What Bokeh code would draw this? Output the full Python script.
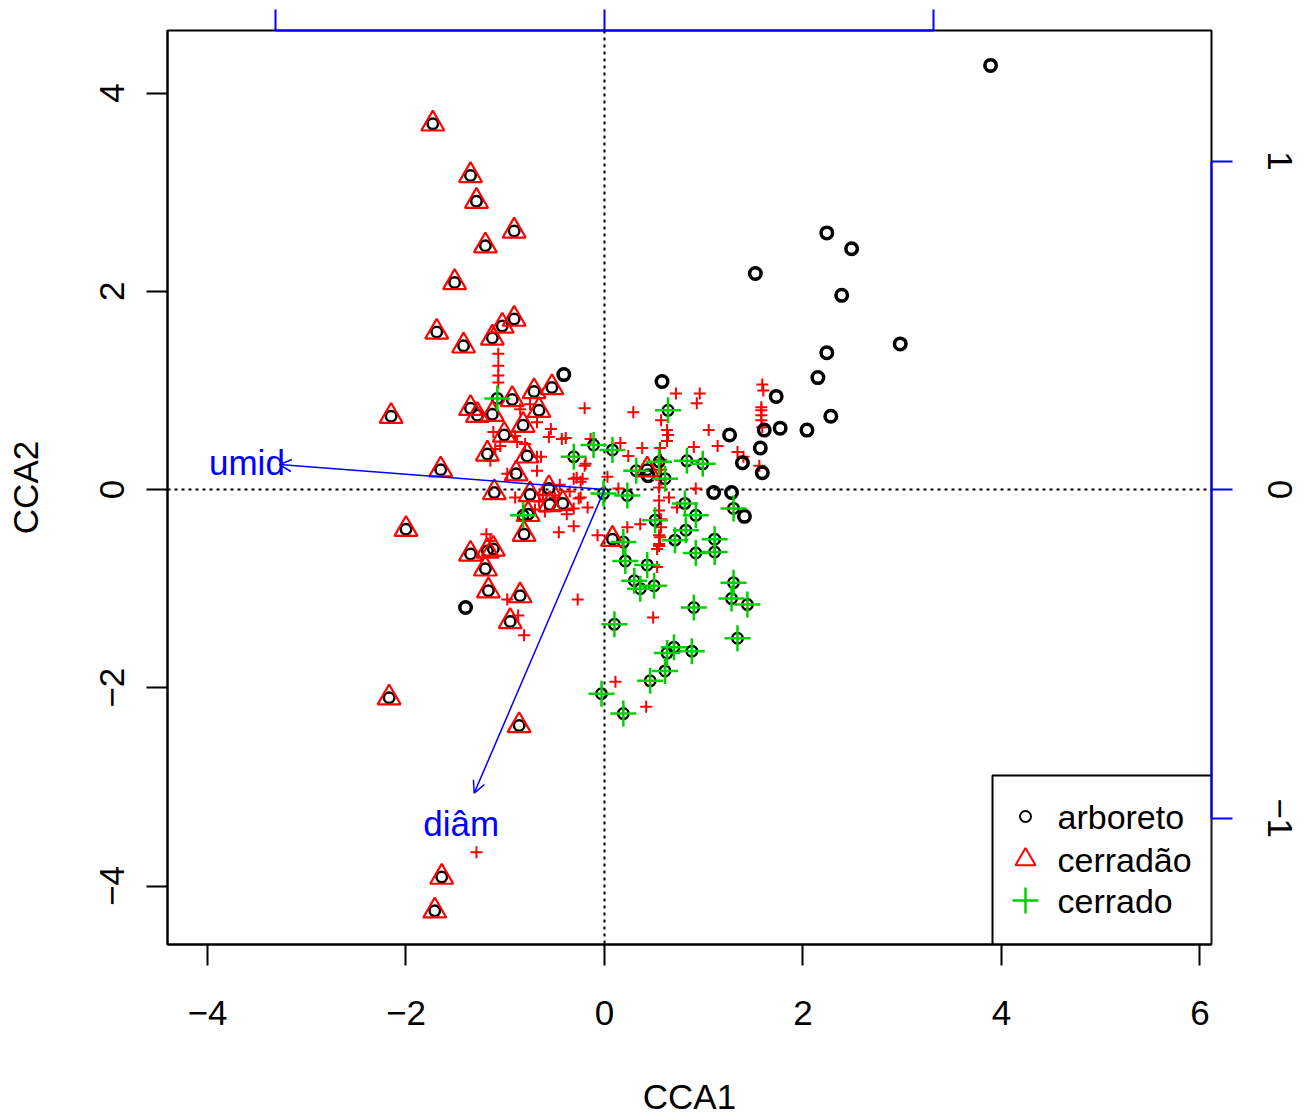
from bokeh.plotting import figure
from bokeh.models import Range1d, LinearAxis, FixedTicker, Arrow, OpenHead, Span
from bokeh.embed import file_html
from bokeh.resources import INLINE
from bokeh.core.properties import value

FONT = "Liberation Sans"

# ---- data ----
arboreto_x = [3.89, 2.24, 2.49, 1.52, 2.39, 2.98, 2.24, 2.15, 1.73, 2.28, 1.26, 1.61, 1.77, 2.04,
              1.57, 1.39, 1.59, 1.10, 1.28, 1.41, 0.58, -0.41, -1.40, 0.44]
arboreto_y = [4.28, 2.59, 2.43, 2.18, 1.96, 1.47, 1.38, 1.13, 0.94, 0.74, 0.55, 0.60, 0.62, 0.60,
              0.42, 0.27, 0.17, -0.03, -0.03, -0.27, 1.09, 1.16, -1.19, 0.14]

cerradao_x = [-1.73, -1.35, -1.29, -0.91, -1.20, -1.51, -0.91, -1.03, -1.69, -1.13, -1.42, -2.15,
              -0.53, -0.71, -0.93, -1.35, -1.28, -1.13, -0.66, -1.01, -0.82, -1.18, -0.78, -1.65,
              -0.89, -1.11, -0.75, -0.56, -0.55, -0.42, -2.00, -0.77, -0.81, -1.35, -1.12, -1.18,
              -1.20, -1.17, -0.85, -0.95, -2.17, -0.86, -1.64, -1.71, 0.43, 0.08]
cerradao_y = [3.69, 3.17, 2.91, 2.61, 2.46, 2.09, 1.72, 1.65, 1.59, 1.53, 1.45, 0.74,
              1.03, 0.99, 0.91, 0.82, 0.75, 0.76, 0.80, 0.55, 0.65, 0.36, 0.34, 0.20,
              0.16, -0.03, -0.05, 0.01, -0.15, -0.14, -0.40, -0.25, -0.45, -0.65, -0.60, -0.62,
              -0.80, -1.02, -1.07, -1.33, -2.10, -2.38, -3.91, -4.25, 0.20, -0.50]

cerrado_x = [-1.08, -0.31, -0.11, -0.01, -0.82, 0.64, 0.08, 0.32, 0.55, 0.61, 0.83, 0.99, 0.23,
             0.81, 0.92, 0.51, 1.30, 0.82, 0.71, 1.11, 0.92, 1.11, 0.19, 0.21, 0.43, 0.30, 0.36,
             0.50, 1.30, 1.28, 1.44, 0.90, 0.10, 1.34, 0.70, 0.63, 0.88, 0.61, 0.46, -0.03, 0.19]
cerrado_y = [0.92, 0.33, 0.45, -0.04, -0.26, 0.80, 0.40, 0.19, 0.28, 0.11, 0.29, 0.26, -0.06,
             -0.14, -0.26, -0.31, -0.19, -0.41, -0.51, -0.50, -0.64, -0.63, -0.53, -0.72, -0.76,
             -0.92, -1.00, -0.97, -0.94, -1.10, -1.16, -1.19, -1.36, -1.50, -1.59, -1.65, -1.63,
             -1.83, -1.93, -2.06, -2.26]

species_x = [-1.07, -1.07, -1.07, -1.07, -0.20, -0.54, -0.43, -0.56, -0.20, -0.14, -0.31, -0.22,
             -0.64, -0.88, -1.10, -0.68, -0.75, -0.85, -0.90, -0.80, -1.12, -1.05, -0.68, -1.15,
             -0.28, -0.98, -0.68, -0.39, -0.19, -0.24,
             -0.31, -0.07, -0.46, -0.17, -0.38, -0.24, -0.31, -0.26, -1.19, -1.15, -0.98, -0.87,
             -0.81, -0.27, -1.29, -0.62, -0.66, -0.50, -0.35, -0.90, -0.45, -0.70, -0.60,
             0.72, 0.96, 0.93, 0.29, 1.05, 1.14, 0.63, 0.63, 0.56, 0.38, 0.16, 0.24, 0.03, 0.14,
             0.55, 0.55, 0.55, 0.56, 0.55, 0.65, 0.92, 0.73, 0.36, 0.23, 0.55, 0.55, 0.53, 0.53,
             0.49, 0.11, 0.42,
             1.59, 1.60, 1.58, 1.58, 1.58, 1.58, 1.59, 1.34, 1.40, 1.56, 0.90,
             0.57, 0.57, 0.57, 0.57, 0.57, 0.57, 0.64]
species_y = [1.37, 1.25, 1.15, 1.08, 0.82, 0.61, 0.51, 0.53, 0.24, 0.51, 0.11, 0.11,
             0.33, 0.48, 0.41, 0.68, 0.86, 0.81, 0.54, 0.46, 0.58, 0.44, 0.33, 0.29,
             0.12, 0.16, 0.19, 0.52, 0.26, 0.08,
             -0.37, -0.46, -0.43, -0.18, -0.25, -0.08, -0.19, -0.09, -0.45, -0.52, -1.11, -1.27,
             -1.47, -1.11, -3.66, -0.05, -0.12, -0.08, -0.02, -0.08, 0.05, -0.20, -0.22,
             0.97, 0.97, 0.87, 0.78, 0.60, 0.44, 0.60, 0.49, 0.42, 0.42, 0.47, 0.34, 0.13, 0.01,
             0.02, -0.11, -0.21, -0.48, -0.57, -0.08, 0.01, -0.18, -0.35, -0.38, -0.46, -0.55, -0.60, -0.78,
             -1.29, -1.94, -2.19,
             1.06, 1.00, 0.83, 0.80, 0.75, 0.70, 0.63, 0.38, 0.33, 0.24, 0.43,
             0.70, 0.30, 0.20, 0.10, -0.30, -0.38, 0.55]

# biplot arrows (in biplot-axis units)
bip_names = ["umid", "diâm"]
bip_x = [-0.988, -0.396]
bip_y = [0.076, -0.924]

x_ticks = [-4, -2, 0, 2, 4, 6]
y_ticks = [-4, -2, 0, 2, 4]
bip_ticks = [-1, 0, 1]

legend_labels = ["arboreto", "cerradão", "cerrado"]

# ---- layout constants ----
X0, X1 = -4.403, 6.116
Y0, Y1 = -4.590, 4.632
MUL = 3.315
FW, FH = 1044, 914
PXU_X = FW / (X1 - X0)
PXU_Y = FH / (Y1 - Y0)
FS = "35px"
RED = "#FF0000"
GREEN = "#00D000"
BLUE = "#0000FF"

p = figure(frame_width=FW, frame_height=FH,
           x_range=Range1d(X0, X1), y_range=Range1d(Y0, Y1),
           output_backend="svg", toolbar_location=None,
           min_border_left=167, min_border_top=30, min_border_right=92, min_border_bottom=160,
           background_fill_color="white", border_fill_color="white")
p.extra_x_ranges = {"bip": Range1d(X0 / MUL, X1 / MUL)}
p.extra_y_ranges = {"bip": Range1d(Y0 / MUL, Y1 / MUL)}
p.grid.visible = False
p.outline_line_color = "black"
p.outline_line_width = 2

def style_axis(ax, color="black"):
    ax.axis_line_color = color
    ax.axis_line_width = 2
    ax.major_tick_line_color = color
    ax.major_tick_line_width = 2
    ax.major_tick_out = 21
    ax.major_tick_in = 0
    ax.minor_tick_line_color = None
    ax.major_label_text_font = FONT
    ax.major_label_text_font_size = FS
    ax.major_label_text_color = "black"
    ax.axis_label_text_font = FONT
    ax.axis_label_text_font_size = FS
    ax.axis_label_text_font_style = "normal"
    ax.axis_label_text_color = "black"

xa = p.xaxis[0]
style_axis(xa)
xa.ticker = FixedTicker(ticks=x_ticks)
xa.axis_label = "CCA1"
xa.major_label_standoff = 35
xa.axis_label_standoff = 49

ya = p.yaxis[0]
style_axis(ya)
ya.ticker = FixedTicker(ticks=y_ticks)
ya.axis_label = "CCA2"
ya.major_label_orientation = "vertical"
ya.major_label_standoff = 22
ya.axis_label_standoff = 53

ra = LinearAxis(y_range_name="bip", ticker=FixedTicker(ticks=bip_ticks), bounds=(-1, 1))
style_axis(ra, BLUE)
ra.major_label_orientation = "vertical"
ra.major_label_standoff = 35
p.add_layout(ra, "right")

ta = LinearAxis(x_range_name="bip", ticker=FixedTicker(ticks=bip_ticks), bounds=(-1, 1))
style_axis(ta, BLUE)
ta.major_label_overrides = {-1: "", 0: "", 1: ""}
ta.major_label_text_font_size = "2px"
ta.major_label_standoff = 0
p.add_layout(ta, "above")

for dim in ("width", "height"):
    p.add_layout(Span(location=0, dimension=dim, line_color="black", line_width=2,
                      line_dash="3 4", level="underlay"))

# species
p.scatter(species_x, species_y, marker="cross", size=12, line_color=RED, line_width=2)
# sites
all_x = arboreto_x + cerradao_x + cerrado_x
all_y = arboreto_y + cerradao_y + cerrado_y
p.scatter(all_x, all_y, marker="circle", size=10.5, fill_color=None, line_color="black", line_width=2.5)
# group symbols
p.scatter(arboreto_x, arboreto_y, marker="circle", size=12, fill_color=None, line_color="black", line_width=3)
p.scatter(cerradao_x, cerradao_y, marker="triangle", size=23, fill_color=None, line_color=RED, line_width=2.2)
p.scatter(cerrado_x, cerrado_y, marker="cross", size=26, line_color=GREEN, line_width=2.5)

# biplot arrows
for nm, bx, by in zip(bip_names, bip_x, bip_y):
    p.add_layout(Arrow(x_start=0, y_start=0, x_end=bx, y_end=by,
                       x_range_name="bip", y_range_name="bip",
                       line_color=BLUE, line_width=1.5,
                       end=OpenHead(size=12, line_color=BLUE, line_width=1.5)))
p.text(x=[v * 1.1 for v in bip_x], y=[v * 1.1 for v in bip_y], text=bip_names,
       x_range_name="bip", y_range_name="bip",
       text_font=value(FONT), text_font_size=value(FS), text_color=BLUE,
       text_align="center", text_baseline="middle")

# legend (drawn in plot)
lb_left = X1 - 219 / PXU_X
lb_top = Y0 + 169 / PXU_Y
p.quad(left=[lb_left], right=[X1], bottom=[Y0], top=[lb_top],
       fill_color="white", line_color="black", line_width=2)
sym_x = X1 - 186 / PXU_X
txt_x = X1 - 154 / PXU_X
row_y = [Y0 + d / PXU_Y for d in (128, 85, 44)]
p.scatter([sym_x], [row_y[0]], marker="circle", size=11, fill_color=None, line_color="black", line_width=2)
p.scatter([sym_x], [row_y[1]], marker="triangle", size=20, fill_color=None, line_color=RED, line_width=2)
p.scatter([sym_x], [row_y[2]], marker="cross", size=26, line_color=GREEN, line_width=2.5)
p.text(x=[txt_x] * 3, y=row_y, text=legend_labels, text_font=value(FONT),
       text_font_size=value("34px"), text_color="black", text_align="left", text_baseline="middle")

open("out.html", "w").write(file_html(p, INLINE))
